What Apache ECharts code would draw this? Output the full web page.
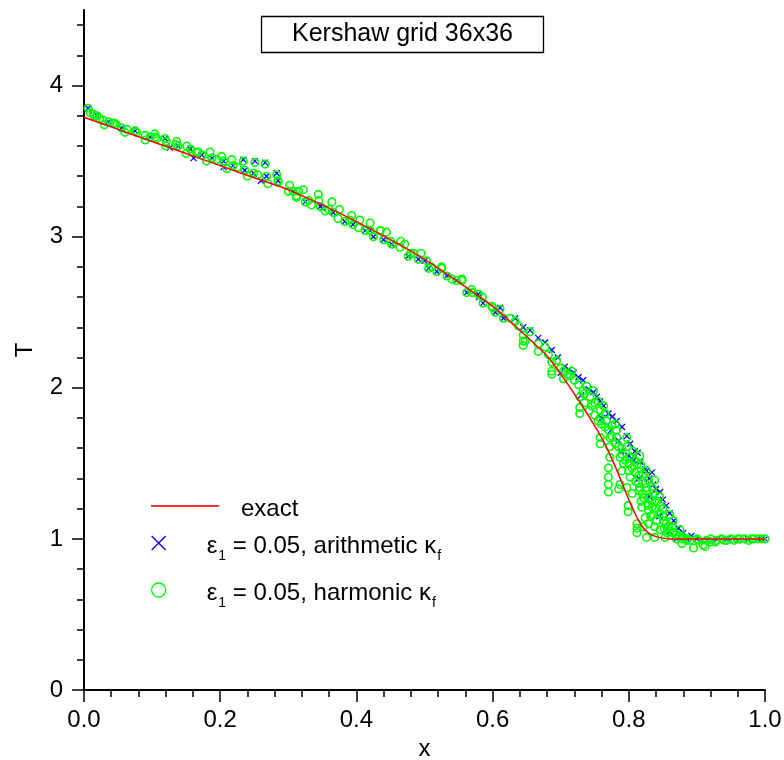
<!DOCTYPE html>
<html>
<head>
<meta charset="utf-8">
<script src="https://cdn.jsdelivr.net/npm/echarts@6/dist/echarts.min.js"></script>
<style>
html,body{margin:0;padding:0;background:#fff;}
#chart{width:784px;height:760px;}
</style>
</head>
<body>
<div id="chart"></div>
<script>
// ---- data ----
var titleText = 'Kershaw grid 36x36';
var yMajorTicks = [0, 1, 2, 3, 4];
var yMinorTicks = [0.2,0.4,0.6,0.8,1.2,1.4,1.6,1.8,2.2,2.4,2.6,2.8,3.2,3.4,3.6,3.8,4.2,4.4];

var exactName = 'exact';
var arithName = 'ε1 = 0.05, arithmetic κf';
var harmName = 'ε1 = 0.05, harmonic κf';

var exactX = [0, 0.05, 0.10, 0.15, 0.20, 0.25, 0.30, 0.35, 0.40, 0.45, 0.50, 0.55, 0.60, 0.64, 0.68, 0.70, 0.72, 0.74, 0.76, 0.78, 0.80, 0.81, 0.82, 0.83, 0.84, 0.85, 0.86, 0.88, 0.90, 0.95, 1.0];
var exactT = [3.79, 3.71, 3.63, 3.55, 3.47, 3.39, 3.31, 3.21, 3.10, 2.98, 2.85, 2.70, 2.54, 2.38, 2.21, 2.09, 1.96, 1.82, 1.67, 1.48, 1.26, 1.16, 1.08, 1.035, 1.015, 1.005, 1.0, 1.0, 1.0, 1.0, 1.0];

var harmonicPoints = [
  [0.006,3.85],[0.009,3.82],[0.014,3.81],[0.019,3.80],[0.023,3.78],[0.028,3.77],[0.036,3.76],[0.043,3.75],[0.048,3.74],[0.055,3.72],
  [0.063,3.71],[0.075,3.70],[0.077,3.69],[0.090,3.67],[0.097,3.66],[0.104,3.68],[0.107,3.65],[0.119,3.65],[0.121,3.63],[0.136,3.63],
  [0.138,3.60],[0.151,3.60],[0.156,3.58],[0.168,3.56],[0.173,3.54],[0.185,3.56],[0.188,3.52],[0.202,3.53],[0.205,3.50],[0.217,3.51],
  [0.219,3.47],[0.234,3.50],[0.236,3.44],[0.251,3.49],[0.249,3.42],[0.266,3.48],[0.268,3.40],[0.283,3.41],[0.285,3.37],[0.302,3.34],
  [0.307,3.30],[0.312,3.26],
  [0.03,3.74],[0.06,3.69],[0.09,3.64],[0.12,3.60],[0.15,3.55],[0.18,3.50],[0.21,3.45],[0.24,3.40],[0.27,3.35],[0.30,3.30],
  [0.015,3.80],[0.045,3.75],[0.075,3.70],[0.105,3.66],[0.135,3.61],[0.165,3.56],[0.195,3.51],[0.225,3.46],[0.255,3.41],[0.285,3.36],
  [0.312,3.27],[0.322,3.31],[0.325,3.23],[0.334,3.21],[0.344,3.28],[0.347,3.20],[0.354,3.17],[0.364,3.23],[0.366,3.16],[0.373,3.12],
  [0.383,3.10],[0.393,3.14],[0.395,3.08],[0.403,3.06],[0.413,3.04],[0.420,3.09],[0.425,3.00],[0.435,3.04],[0.440,2.98],[0.444,3.03],
  [0.452,2.95],[0.464,2.93],[0.471,2.95],[0.476,2.87],[0.484,2.89],[0.491,2.85],[0.503,2.84],[0.506,2.79],[0.518,2.77],[0.525,2.79],
  [0.533,2.74],[0.547,2.71],[0.555,2.72],[0.562,2.63],[0.569,2.65],[0.579,2.62],[0.586,2.56],[0.599,2.54],[0.604,2.50],[0.616,2.46],
  [0.33,3.24],[0.36,3.18],[0.39,3.11],[0.42,3.04],[0.45,2.97],[0.48,2.89],[0.51,2.80],[0.54,2.72],[0.57,2.63],[0.60,2.53],
  [0.315,3.30],[0.345,3.24],[0.375,3.18],[0.405,3.11],[0.435,3.04],[0.465,2.97],[0.495,2.89],[0.525,2.80],[0.555,2.71],[0.585,2.60],
  [0.611,2.52],[0.626,2.46],[0.633,2.44],[0.645,2.35],[0.645,2.31],[0.645,2.28],[0.638,2.41],
  [0.648,2.31],[0.655,2.37],[0.667,2.29],[0.667,2.24],[0.677,2.27],[0.682,2.22],[0.687,2.17],[0.687,2.11],[0.687,2.09],[0.694,2.18],
  [0.704,2.11],[0.704,2.06],[0.714,2.08],[0.716,2.11],[0.726,2.02],[0.728,1.94],[0.728,1.87],[0.728,1.83],[0.733,1.98],[0.738,2.01],
  [0.743,1.94],[0.746,1.88],[0.748,1.98],[0.755,1.91],[0.758,1.85],[0.758,1.80],[0.760,1.76],[0.763,1.88],[0.765,1.83],[0.767,1.78],
  [0.770,1.72],[0.758,1.67],[0.758,1.63],[0.772,1.67],[0.780,1.76],[0.782,1.72],[0.782,1.67],[0.772,1.61],[0.785,1.61],[0.772,1.54],
  [0.770,1.47],[0.770,1.41],[0.770,1.36],[0.770,1.31],[0.787,1.54],[0.792,1.50],[0.797,1.61],[0.797,1.67],[0.802,1.54],[0.809,1.52],
  [0.812,1.49],[0.809,1.44],[0.802,1.41],[0.787,1.36],[0.785,1.33],[0.797,1.34],[0.814,1.37],[0.821,1.43],[0.826,1.45],[0.829,1.39],
  [0.826,1.34],[0.799,1.22],[0.799,1.18],[0.812,1.10],[0.812,1.07],[0.812,1.04],[0.826,1.01],
  [0.700,2.13],[0.710,2.09],[0.720,2.05],[0.735,1.96],[0.750,1.90],[0.775,1.75],[0.790,1.60],[0.800,1.50],[0.805,1.47],[0.815,1.42],
  [0.820,1.30],[0.830,1.27],[0.835,1.33],[0.840,1.20],[0.845,1.17],[0.850,1.15],[0.855,1.10],[0.860,1.05],[0.870,1.03],[0.878,1.00],
  [0.790,1.45],[0.805,1.30],[0.818,1.25],[0.806,1.58],[0.818,1.49],
  [0.735,1.90],[0.742,1.85],[0.750,1.82],[0.755,1.78],[0.765,1.74],[0.775,1.68],[0.780,1.63],[0.790,1.56],[0.795,1.52],[0.800,1.45],
  [0.810,1.38],[0.815,1.32],[0.822,1.27],[0.828,1.22],[0.832,1.15],[0.845,1.28],[0.850,1.20],[0.852,1.07],
  [0.816,1.55],[0.824,1.37],[0.826,1.32],[0.834,1.25],[0.819,1.21],[0.829,1.19],[0.836,1.30],[0.838,1.39],[0.846,1.22],[0.824,1.14],
  [0.836,1.16],[0.841,1.12],[0.829,1.10],[0.821,1.08],[0.838,1.08],[0.851,1.12],[0.858,1.08],[0.860,1.16],[0.865,1.12],[0.846,1.06],
  [0.856,1.04],[0.865,1.04],[0.875,1.06],[0.873,1.02],[0.838,1.01],[0.853,1.01],[0.880,1.01],[0.885,0.99],[0.841,1.25],[0.816,1.34],
  [0.834,1.21],[0.863,1.08],
  [0.870,1.00],[0.878,0.97],[0.886,1.00],[0.890,0.99],[0.895,0.94],[0.900,1.00],[0.902,0.99],[0.909,0.96],[0.912,0.95],[0.914,0.99],
  [0.919,0.98],[0.920,1.00],[0.927,0.98],[0.929,0.99],[0.936,1.00],[0.940,0.99],[0.944,0.99],[0.950,1.00],[0.955,0.99],[0.960,1.00],
  [0.963,1.00],[0.970,1.00],[0.976,0.99],[0.980,1.00],[0.983,1.00],[0.990,1.00],[0.995,1.00],[1.000,1.00]
];

var arithmeticPoints = [
  [0.006,3.85],[0.019,3.80],[0.036,3.76],[0.055,3.72],[0.075,3.70],[0.097,3.66],[0.119,3.65],[0.138,3.60],[0.156,3.58],[0.173,3.54],
  [0.188,3.52],[0.205,3.50],[0.219,3.47],[0.234,3.51],[0.236,3.44],[0.251,3.50],[0.249,3.42],[0.266,3.49],[0.268,3.40],[0.283,3.42],
  [0.285,3.37],[0.307,3.30],[0.325,3.23],[0.347,3.20],[0.366,3.16],[0.383,3.10],[0.395,3.08],[0.413,3.04],[0.425,3.00],[0.440,2.98],
  [0.452,2.95],[0.476,2.87],[0.491,2.85],[0.506,2.79],[0.518,2.77],[0.533,2.74],[0.547,2.71],[0.562,2.63],[0.579,2.62],[0.586,2.56],
  [0.604,2.50],[0.616,2.46],
  [0.126,3.59],[0.161,3.52],[0.205,3.46],[0.260,3.37],[0.350,3.19],[0.420,3.04],[0.500,2.84],[0.580,2.60],
  [0.611,2.53],[0.633,2.46],[0.645,2.40],[0.655,2.38],[0.667,2.33],[0.677,2.30],[0.687,2.25],[0.696,2.20],[0.706,2.14],[0.712,2.12],
  [0.719,2.10],[0.726,2.07],[0.733,2.05],[0.741,1.99],[0.748,1.97],[0.753,1.94],[0.758,1.91],[0.763,1.88],[0.770,1.83],[0.774,1.72],
  [0.776,1.81],[0.782,1.78],[0.789,1.58],[0.790,1.74],[0.797,1.68],[0.802,1.63],[0.807,1.52],[0.809,1.58],[0.813,1.57],[0.817,1.51],
  [0.824,1.46],[0.826,1.45],[0.830,1.40],[0.834,1.44],[0.836,1.36],[0.840,1.33],[0.846,1.31],[0.850,1.26],[0.855,1.22],[0.860,1.17],
  [0.866,1.12],[0.873,1.07],[0.880,1.04],[0.892,1.02],
  [0.700,2.10],[0.730,1.95],[0.760,1.80],[0.785,1.65],[0.800,1.55],[0.815,1.40],[0.830,1.28],[0.845,1.15],[0.860,1.05],
  [0.870,1.00],[0.885,1.00],[0.900,1.00],[0.915,0.99],[0.930,1.00],[0.945,1.00],[0.960,0.99],[0.975,1.00],[0.990,1.00],[1.000,1.00]
];

// ---- chart ----
var FONT = '"Liberation Sans", Arial, Helvetica, sans-serif';
var chart = echarts.init(document.getElementById('chart'), null, {renderer: 'canvas'});

var exactData = exactX.map(function (x, i) { return [x, exactT[i]]; });

var rich = {
  a0: {fontSize: 24, lineHeight: 24, fontFamily: FONT, color: '#000', padding: [6, 0, 0, 9]},
  a: {fontSize: 24, lineHeight: 24, fontFamily: FONT, color: '#000', padding: [6, 0, 0, 0]},
  s: {fontSize: 14, lineHeight: 14, fontFamily: FONT, color: '#000', padding: [26, 0, 0, 1]},
  e: {fontSize: 24, lineHeight: 24, fontFamily: FONT, color: '#000', padding: [6, 0, 0, 17]}
};

var option = {
  animation: false,
  backgroundColor: '#fff',
  textStyle: {fontFamily: FONT},
  title: {
    text: titleText,
    left: 261, top: 16,
    padding: [6, 31, 6, 31],
    borderWidth: 1.3, borderColor: '#000',
    textStyle: {fontSize: 25, lineHeight: 25, fontWeight: 'normal', color: '#000', fontFamily: FONT}
  },
  grid: {left: 84, right: 19, top: 10, bottom: 70, containLabel: false, outerBoundsMode: 'none'},
  legend: [
    {
      data: [{name: exactName, icon: 'rect', itemStyle: {color: '#ff3030'}}],
      left: 151, top: 491, padding: 0,
      itemWidth: 68, itemHeight: 2,
      formatter: function () { return '{e|exact}'; },
      textStyle: {rich: rich}
    },
    {
      data: [{name: arithName, icon: 'path://M0,0L10,10M10,0L0,10',
        itemStyle: {color: 'rgba(0,0,0,0)', borderColor: '#0000ff', borderWidth: 1.3}}],
      left: 151, top: 523, padding: 0,
      itemWidth: 68, itemHeight: 14,
      formatter: function () { return '{a0|ε}{s|1}{a| = 0.05, arithmetic κ}{s|f}'; },
      textStyle: {rich: rich}
    },
    {
      data: [{name: harmName, icon: 'circle',
        itemStyle: {color: 'rgba(0,0,0,0)', borderColor: '#00ff00', borderWidth: 1.3}}],
      left: 151, top: 570, padding: 0,
      itemWidth: 68, itemHeight: 14,
      formatter: function () { return '{a0|ε}{s|1}{a| = 0.05, harmonic κ}{s|f}'; },
      textStyle: {rich: rich}
    }
  ],
  xAxis: {
    type: 'value', min: 0, max: 1, interval: 0.2,
    name: 'x', nameLocation: 'middle', nameGap: 44,
    nameTextStyle: {fontSize: 24, color: '#000', fontFamily: FONT},
    axisLine: {show: true, onZero: false, lineStyle: {color: '#000', width: 2}},
    axisTick: {show: true, inside: false, length: 12, lineStyle: {color: '#000', width: 1.5}},
    minorTick: {show: true, splitNumber: 5, length: 7, lineStyle: {color: '#000', width: 1.5}},
    axisLabel: {margin: 18, fontSize: 24, color: '#000', fontFamily: FONT,
      formatter: function (v) { return v.toFixed(1); }},
    splitLine: {show: false}
  },
  yAxis: [
    {
      type: 'value', min: 0, max: 4.5, position: 'left',
      name: 'T', nameLocation: 'middle', nameGap: 47,
      nameTextStyle: {fontSize: 24, color: '#000', fontFamily: FONT},
      axisLine: {show: true, onZero: false, lineStyle: {color: '#000', width: 2}},
      axisTick: {show: true, inside: false, length: 12, lineStyle: {color: '#000', width: 1.5}, customValues: yMajorTicks},
      axisLabel: {margin: 21, fontSize: 24, color: '#000', fontFamily: FONT, customValues: yMajorTicks},
      minorTick: {show: false},
      splitLine: {show: false}
    },
    {
      type: 'value', min: 0, max: 4.5, position: 'left',
      axisLine: {show: false},
      axisTick: {show: true, inside: false, length: 7, lineStyle: {color: '#000', width: 1.5}, customValues: yMinorTicks},
      axisLabel: {show: false},
      splitLine: {show: false}
    }
  ],
  series: [
    {
      name: arithName, type: 'scatter', yAxisIndex: 0,
      symbol: 'path://M0,0L10,10M10,0L0,10', symbolSize: 6,
      itemStyle: {color: 'rgba(0,0,0,0)', borderColor: '#0000ff', borderWidth: 1.3, opacity: 1},
      data: arithmeticPoints, z: 2
    },
    {
      name: harmName, type: 'scatter', yAxisIndex: 0,
      symbol: 'circle', symbolSize: 7.5,
      itemStyle: {color: 'rgba(0,0,0,0)', borderColor: '#00ff00', borderWidth: 1.6, opacity: 1},
      data: harmonicPoints, z: 3
    },
    {
      name: exactName, type: 'line', yAxisIndex: 0,
      showSymbol: false, smooth: 0.25,
      lineStyle: {color: '#ff0000', width: 1.5},
      itemStyle: {color: '#ff0000'},
      data: exactData, z: 4
    }
  ]
};
chart.setOption(option);
</script>
</body>
</html>
